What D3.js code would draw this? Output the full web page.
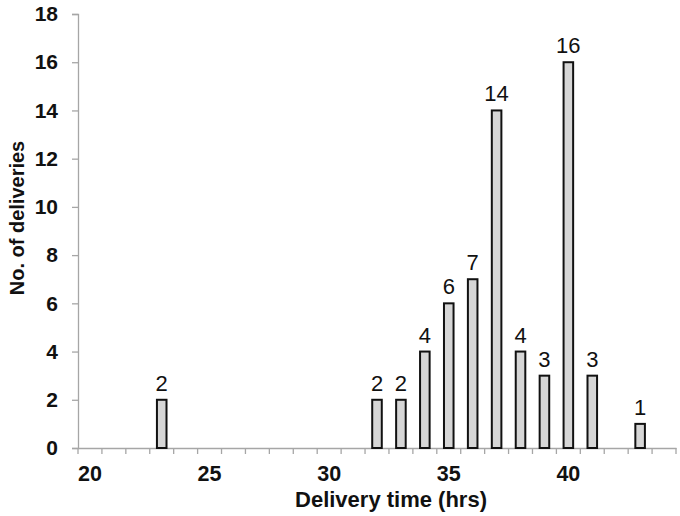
<!DOCTYPE html>
<html><head><meta charset="utf-8">
<script src="https://cdn.jsdelivr.net/npm/d3@7"></script>
<style>body{margin:0;background:#fff}svg{display:block}text{font-family:"Liberation Sans",Arial,sans-serif}</style>
</head><body><svg id="c" width="680" height="516"></svg>
<script>
const categories = [20,21,22,23,24,25,26,27,28,29,30,31,32,33,34,35,36,37,38,39,40,41,42,43,44];
const counts     = [0,0,0,2,0,0,0,0,0,0,0,0,2,2,4,6,7,14,4,3,16,3,0,1,0];
const xTickLabels = [20,25,30,35,40];
const yTicks = [0,2,4,6,8,10,12,14,16,18];

const svg = d3.select("#c");
const m = {l:78, r:4, t:14, b:68};
const W = 680, H = 516;
const pad = 0.6;
const x = d3.scaleBand().domain(categories).range([m.l, W - m.r]).paddingInner(pad).paddingOuter(pad/2);
const y = d3.scaleLinear().domain([0,18]).range([H - m.b, m.t]);
const axisColor = "#a6a6a6";

// y axis
const ya = svg.append("g").attr("transform", `translate(${m.l},0)`)
  .call(d3.axisLeft(y).tickValues(yTicks).tickSize(6).tickPadding(14));
ya.select(".domain").attr("stroke", axisColor).attr("stroke-width",1.3);
ya.selectAll(".tick line").attr("stroke", axisColor).attr("stroke-width",1.3);
ya.selectAll(".tick text").attr("fill","#111").style("font-size","21px").style("font-weight","bold");

// x axis
const x0 = y(0);
const xa = svg.append("g").attr("transform", `translate(0,${x0})`)
  .call(d3.axisBottom(x).tickValues(xTickLabels).tickSize(0).tickPadding(18));
xa.select(".domain").attr("stroke", axisColor).attr("stroke-width",1.3);
xa.selectAll(".tick text").attr("fill","#111").style("font-size","21.5px").style("font-weight","bold");
const step = x.step();
const bounds = categories.map(c => x(c) - (step - x.bandwidth())/2).concat([x(categories[categories.length-1]) + x.bandwidth() + (step - x.bandwidth())/2]);
svg.append("g").selectAll("line").data(bounds).join("line")
  .attr("x1", d => d).attr("x2", d => d).attr("y1", x0).attr("y2", x0 + 6)
  .attr("stroke", axisColor).attr("stroke-width",1.3);

// bars
const data = categories.map((c,i) => ({c, v: counts[i]})).filter(d => d.v > 0);
svg.append("g").selectAll("rect").data(data).join("rect")
  .attr("x", d => x(d.c)).attr("width", x.bandwidth())
  .attr("y", d => y(d.v)).attr("height", d => y(0) - y(d.v))
  .attr("fill", "#d6d6d6").attr("stroke", "#111").attr("stroke-width", 2);

// labels
svg.append("g").selectAll("text").data(data).join("text")
  .attr("x", d => x(d.c) + x.bandwidth()/2).attr("y", d => y(d.v) - 9)
  .attr("text-anchor","middle").attr("fill","#111").style("font-size","22px")
  .text(d => d.v);

// axis titles
svg.append("text").attr("x", 391).attr("y", 507).attr("text-anchor","middle")
  .attr("fill","#111").style("font-size","22px").style("font-weight","bold").text("Delivery time (hrs)");
svg.append("text").attr("transform", `translate(24,218) rotate(-90)`).attr("text-anchor","middle")
  .attr("fill","#111").style("font-size","20px").style("font-weight","bold").text("No. of deliveries");
</script></body></html>
